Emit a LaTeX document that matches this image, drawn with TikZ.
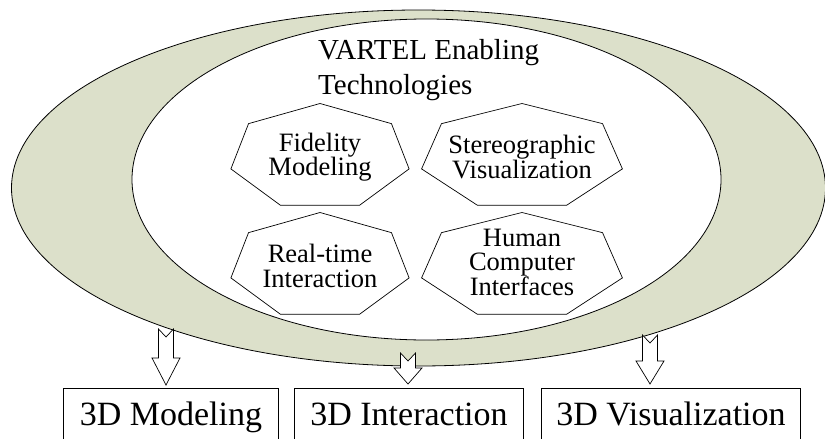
\documentclass[tikz,border=0pt]{standalone}
\usepackage{fontspec}
\setmainfont{Liberation Serif}
\usepackage{tikz}
\usetikzlibrary{positioning}
\definecolor{bandgreen}{HTML}{DCE0CA}

% hollow down arrow with a notched tail: x, tail y, head y, tip y
\newcommand{\downblock}[4]{%
  \draw[blockarrow] (#1-7.5,#2) -- (#1,#2+8) -- (#1+7.5,#2) -- (#1+7.5,#3)
    -- (#1+14,#3) -- (#1,#4) -- (#1-14,#3) -- (#1-7.5,#3) -- cycle;}

\begin{document}
\begin{tikzpicture}[
    x=1pt, y=-1pt,
    band/.style={draw=black, line width=0.8pt},
    heptext/.style={align=center, inner sep=0pt,
                    font=\fontsize{26.5}{24.5}\selectfont},
    techbox/.style={rectangle, draw=black, line width=1pt, anchor=north west,
                    inner xsep=0pt, inner ysep=13pt, text height=24pt,
                    text depth=7pt, font=\fontsize{34}{40}\selectfont},
    blockarrow/.style={draw=black, fill=white, line width=0.7pt},
  ]
  \useasboundingbox (0,0) rectangle (825,439);
  \clip (0,0) rectangle (825,439);

  % crescent
  \draw[band, fill=bandgreen] (418.5,188) ellipse [x radius=407, y radius=178];
  \draw[band, fill=white] (426.5,179.5) ellipse [x radius=294.5, y radius=160.5];

  \node[anchor=north west, inner sep=0pt, align=left,
        font=\fontsize{29}{34.4}\selectfont] (title) at (318,39.5)
        {VARTEL Enabling\\Technologies};

  % enabling technologies
  \node[heptext] (fidelity) at (320,157) {Fidelity\\Modeling};
  \node[heptext, on grid, right=202pt of fidelity] (stereo) {Stereographic\\Visualization};
  \node[heptext, on grid, below=109pt of fidelity] (realtime) {Real-time\\Interaction};
  \node[heptext, on grid, below=109pt of stereo, yshift=4pt] (human) {Human\\Computer\\Interfaces};

  \foreach \n/\r/\dy in {fidelity/91.4/0, stereo/103/0, realtime/91.4/0, human/103/-4}
    \draw[line width=0.7pt, shift={([yshift=\dy pt]\n.center)}]
      (90:\r pt and 53.5pt) \foreach \k in {1,...,6} { -- (90+\k*360/7:\r pt and 53.5pt) } -- cycle;

  % outputs
  \node[techbox, minimum width=215pt] (modeling) at (63,388) {3D Modeling};
  \node[techbox, minimum width=229pt, right=15pt of modeling] (interaction) {3D Interaction};
  \node[techbox, minimum width=259pt, right=17pt of interaction] (visual) {3D Visualization};

  \downblock{166}{329}{358}{385}
  \downblock{408}{353}{368}{384}
  \downblock{650}{335}{361}{384}
\end{tikzpicture}
\end{document}
